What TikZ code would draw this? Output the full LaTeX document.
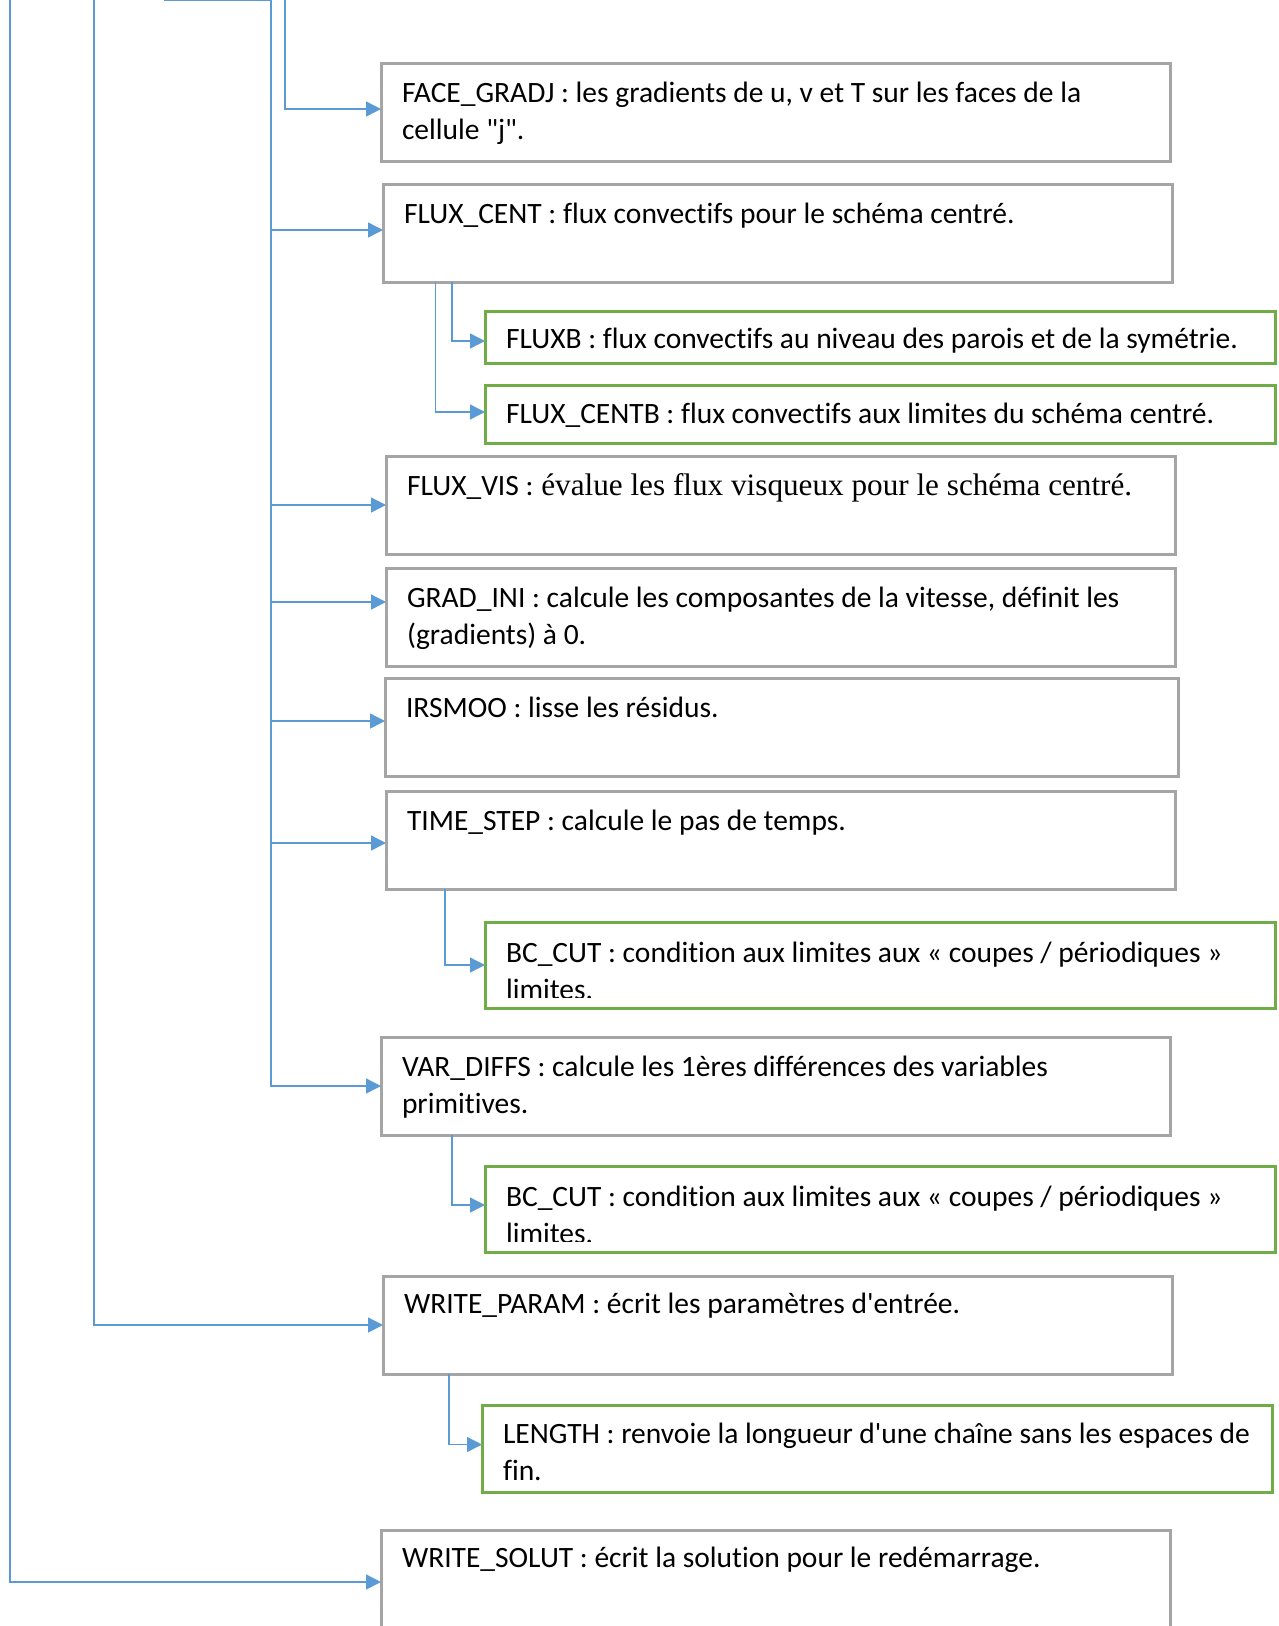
\documentclass[tikz,border=0pt]{standalone}
\usepackage{fontspec}
\setmainfont{Carlito}[Ligatures={TeXOff,CommonOff}]
\newfontfamily\tms{Liberation Serif}[Ligatures={TeXOff}]
\usetikzlibrary{arrows.meta}
\definecolor{lblue}{HTML}{5B9BD5}
\definecolor{bgray}{HTML}{A5A5A5}
\definecolor{bgreen}{HTML}{70AD47}
\newcommand{\twol}[2]{\vtop{\hbox{#1}\hbox{#2}}}
\begin{document}
\begin{tikzpicture}[x=1pt,y=-1pt,
  conn/.style={draw=lblue, line width=1.4pt, -{Triangle[length=15pt,width=15pt]}},
  plainline/.style={draw=lblue, line width=1.4pt},
  trunk/.style={draw=lblue, line width=2pt},
  graybox/.style={draw=bgray, line width=3pt, fill=white, inner sep=0pt, outer sep=0pt,
    anchor=north west, minimum width=789pt, minimum height=98pt},
  greenbox/.style={draw=bgreen, line width=3pt, fill=white, inner sep=0pt, outer sep=0pt,
    anchor=north west, minimum width=790pt},
  lbl/.style={anchor=base west, inner sep=0pt, outer sep=0pt, font=\fontsize{29.5}{37.5}\selectfont}
]
\useasboundingbox (0,0) rectangle (1279,1626);
\clip (0,0) rectangle (1279,1626);

% boxes
\node[graybox] (facegradj) at (381,63) {};
\node[graybox] (fluxcent) at (383,184) {};
\node[greenbox, minimum height=52pt] (fluxb) at (485,311) {};
\node[greenbox, minimum height=58pt] (fluxcentb) at (485,385) {};
\node[graybox] (fluxvis) at (386,456) {};
\node[graybox] (gradini) at (386,568) {};
\node[graybox, minimum width=793pt] (irsmoo) at (385,678) {};
\node[graybox] (timestep) at (386,791) {};
\node[greenbox, minimum height=86pt] (bccuta) at (485,922) {};
\node[graybox] (vardiffs) at (381,1037) {};
\node[greenbox, minimum height=86pt] (bccutb) at (485,1166) {};
\node[graybox] (writeparam) at (383,1276) {};
\node[greenbox, minimum height=87pt] (length) at (482,1405) {};
\node[graybox, minimum height=130pt] (writesolut) at (381,1530) {};

% texts
\node[lbl] (tfacegradj) at ([xshift=21pt,yshift=-39pt]facegradj.north west)
  {\twol{FACE\_GRADJ : les gradients de u, v et T sur les faces de la}{cellule "j".}};
\node[lbl] (tfluxcent) at ([xshift=21pt,yshift=-39pt]fluxcent.north west)
  {FLUX\_CENT : flux convectifs pour le schéma centré.};
\node[lbl] (tfluxb) at ([xshift=21pt,yshift=-37pt]fluxb.north west)
  {FLUXB : flux convectifs au niveau des parois et de la symétrie.};
\node[lbl] (tfluxcentb) at ([xshift=21pt,yshift=-38pt]fluxcentb.north west)
  {FLUX\_CENTB : flux convectifs aux limites du schéma centré.};
\node[lbl] (tfluxvis) at ([xshift=21pt,yshift=-39pt]fluxvis.north west)
  {FLUX\_VIS :{\tms\fontsize{31.2}{37}\selectfont{} évalue les flux visqueux pour le schéma centré.}};
\node[lbl] (tgradini) at ([xshift=21pt,yshift=-39pt]gradini.north west)
  {\twol{GRAD\_INI : calcule les composantes de la vitesse, définit les}{(gradients) à 0.}};
\node[lbl] (tirsmoo) at ([xshift=21pt,yshift=-39pt]irsmoo.north west)
  {IRSMOO : lisse les résidus.};
\node[lbl] (ttimestep) at ([xshift=21pt,yshift=-39pt]timestep.north west)
  {TIME\_STEP : calcule le pas de temps.};
\begin{scope}
  \clip (bccuta.north west) rectangle ([yshift=11pt]bccuta.south east);
  \node[lbl] (tbccuta) at ([xshift=21pt,yshift=-40pt]bccuta.north west)
    {\twol{BC\_CUT : condition aux limites aux « coupes / périodiques »}{limites.}};
\end{scope}
\node[lbl] (tvardiffs) at ([xshift=21pt,yshift=-39pt]vardiffs.north west)
  {\twol{VAR\_DIFFS : calcule les 1ères différences des variables}{primitives.}};
\begin{scope}
  \clip (bccutb.north west) rectangle ([yshift=11pt]bccutb.south east);
  \node[lbl] (tbccutb) at ([xshift=21pt,yshift=-40pt]bccutb.north west)
    {\twol{BC\_CUT : condition aux limites aux « coupes / périodiques »}{limites.}};
\end{scope}
\node[lbl] (twriteparam) at ([xshift=21pt,yshift=-37pt]writeparam.north west)
  {WRITE\_PARAM : écrit les paramètres d'entrée.};
\node[lbl] (tlength) at ([xshift=21pt,yshift=-38pt]length.north west)
  {\twol{LENGTH : renvoie la longueur d'une chaîne sans les espaces de}{fin.}};
\node[lbl] (twritesolut) at ([xshift=21pt,yshift=-37pt]writesolut.north west)
  {WRITE\_SOLUT : écrit la solution pour le redémarrage.};

% connectors
\coordinate (ta) at (10,0);
\coordinate (tb) at (94,0);
\coordinate (tc) at (271,0);
\coordinate (td) at (285,0);
\coordinate (te) at (164,0);
\draw[plainline] (te) -- (tc);
\draw[trunk] (tc) -- (tc |- vardiffs.west);
\draw[conn] (td) |- ([yshift=3pt]facegradj.west);
\draw[conn] (tc) |- ([yshift=3pt]fluxcent.west);
\draw[conn] (tc) |- (fluxvis.west);
\draw[conn] (tc) |- ([yshift=15pt]gradini.west);
\draw[conn] (tc) |- ([yshift=6pt]irsmoo.west);
\draw[conn] (tc) |- ([yshift=-3pt]timestep.west);
\draw[conn] (tc) |- (vardiffs.west);
\draw[conn] (tb) |- (writeparam.west);
\draw[conn] (ta) |- ([yshift=-52pt]writesolut.north west);

\draw[conn] ([xshift=69pt]fluxcent.south west) |- ([yshift=-4pt]fluxb.west);
\draw[conn] ([xshift=52.5pt]fluxcent.south west) |- ([yshift=2pt]fluxcentb.west);
\draw[conn] ([xshift=59pt]timestep.south west) |- (bccuta.west);
\draw[conn] ([xshift=71pt]vardiffs.south west) |- ([yshift=4pt]bccutb.west);
\draw[conn] ([xshift=66pt]writeparam.south west) |- ([yshift=4pt]length.west);
\end{tikzpicture}
\end{document}
